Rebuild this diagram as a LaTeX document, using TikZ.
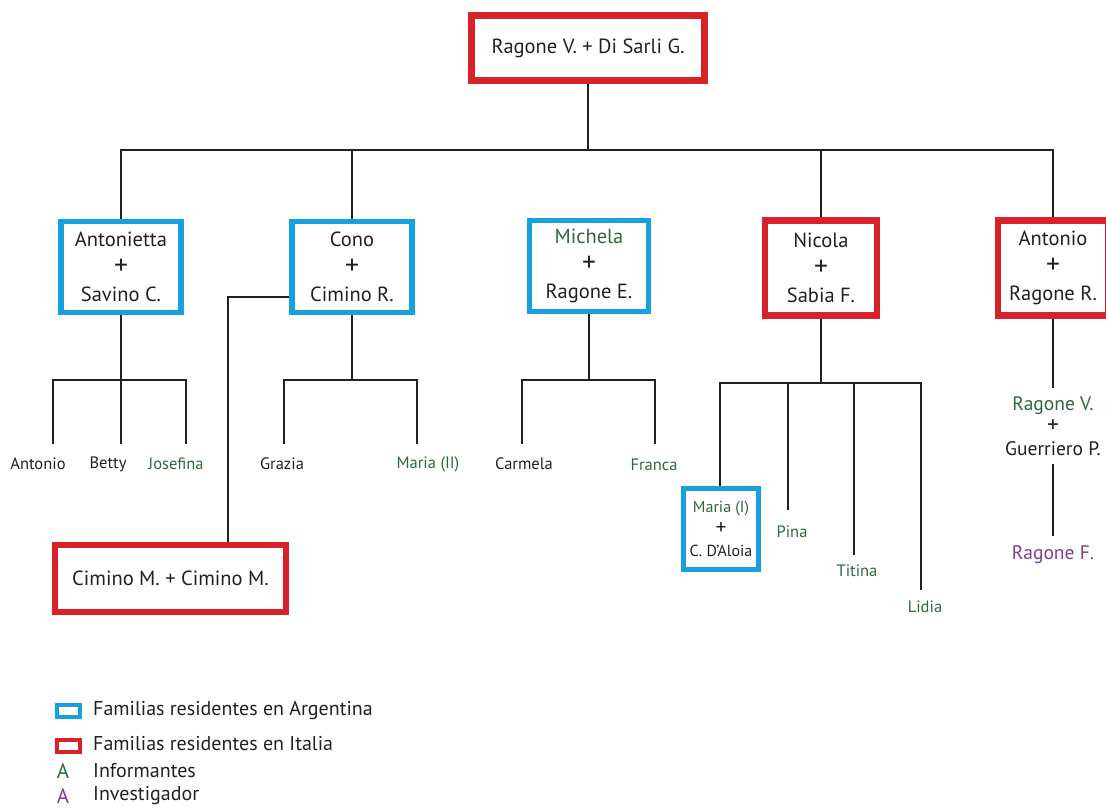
\documentclass[tikz,border=0pt]{standalone}
\usepackage{fontspec}
\setmainfont{PT Sans}
\usepackage{tikz}

\definecolor{argblue}{RGB}{22,160,222}
\definecolor{itared}{RGB}{214,34,40}
\definecolor{infgreen}{RGB}{46,104,62}
\definecolor{invpurple}{RGB}{122,62,140}
\definecolor{txtblack}{RGB}{35,31,32}
\newcommand{\bigplus}{\smash{\scalebox{1.35}{+}}}

\begin{document}
\begin{tikzpicture}[x=1pt,y=-1pt,
    ita_box/.style={draw=itared,line width=6.5pt,align=center,inner sep=0pt},
    arg_box/.style={draw=argblue,line width=5.5pt,align=center,inner sep=0pt},
    big_txt/.style={font=\fontsize{20.5}{27.5}\selectfont,text=txtblack},
    kid_txt/.style={font=\fontsize{16.5}{19}\selectfont,text=txtblack},
    leg_txt/.style={font=\fontsize{20}{22}\selectfont,text=txtblack,anchor=west,inner sep=0pt},
    link/.style={line width=1.8pt,draw=txtblack}]

    \useasboundingbox (0,0) rectangle (1106,810);

    % top couple and first generation
    \node[ita_box,big_txt,minimum width=233pt,minimum height=65pt] (top) at (588,48) {Ragone V. + Di Sarli G.};
    \node[arg_box,big_txt,minimum width=120pt,minimum height=91pt] (antonietta) at (121,267) {Antonietta\\\bigplus\\Savino C.};
    \node[arg_box,big_txt,minimum width=120pt,minimum height=91pt] (cono) at (352,267) {Cono\\\bigplus\\Cimino R.};
    \node[arg_box,big_txt,minimum width=119pt,minimum height=91pt] (michela) at (589,266) {\textcolor{infgreen}{Michela}\\\bigplus\\Ragone E.};
    \node[ita_box,big_txt,minimum width=112pt,minimum height=95pt] (nicola) at (821,268) {Nicola\\\bigplus\\Sabia F.};
    \node[ita_box,big_txt,minimum width=110pt,minimum height=95pt] (antonio) at (1053,268) {Antonio\\\bigplus\\Ragone R.};
    \coordinate (fork) at (588,150);
    \draw[link] (top) -- (fork);
    \draw[link] (antonietta) |- (fork) -| (antonio);
    \draw[link] (cono) -- (cono |- fork);
    \draw[link] (nicola) -- (nicola |- fork);

    % Antonietta
    \coordinate (a_bar) at (121,380);
    \coordinate (a_k1) at (53,444);
    \coordinate (a_k2) at (121,444);
    \coordinate (a_k3) at (186,444);
    \draw[link] (antonietta) -- (a_k2);
    \draw[link] (a_k1) |- (a_bar) -| (a_k3);
    \node[kid_txt] (k_antonio) at (38,464) {Antonio};
    \node[kid_txt] (k_betty) at (108,464) {Betty};
    \node[kid_txt,text=infgreen] (k_josefina) at (176,464) {Josefina};

    % Cono
    \coordinate (c_bar) at (352,380);
    \coordinate (c_k1) at (284,444);
    \coordinate (c_k2) at (417,444);
    \draw[link] (cono) -- (c_bar);
    \draw[link] (c_k1) |- (c_bar) -| (c_k2);
    \node[kid_txt] (k_grazia) at (282,464) {Grazia};
    \node[kid_txt,text=infgreen] (k_maria2) at (428,464) {Maria (II)};
    \node[ita_box,big_txt,line width=6pt,minimum width=231pt,minimum height=67pt] (cimino) at (170.5,578.5) {Cimino M. + Cimino M.};
    \coordinate (cim_turn) at (228,297);
    \draw[link] (cono.west |- cim_turn) -- (cim_turn) -- (cim_turn |- cimino.north);

    % Michela
    \coordinate (m_bar) at (589,380);
    \coordinate (m_k1) at (522,444);
    \coordinate (m_k2) at (655,444);
    \draw[link] (michela) -- (m_bar);
    \draw[link] (m_k1) |- (m_bar) -| (m_k2);
    \node[kid_txt] (k_carmela) at (524,464) {Carmela};
    \node[kid_txt,text=infgreen] (k_franca) at (654,465) {Franca};

    % Nicola
    \node[arg_box,kid_txt,line width=5pt,minimum width=75pt,minimum height=81pt,font=\fontsize{16}{22}\selectfont] (maria1) at (721,529) {\textcolor{infgreen}{Maria (I)}\\\bigplus\\C. D'Aloia};
    \coordinate (n_bar) at (821,383);
    \coordinate (n_pina) at (788,510);
    \coordinate (n_titina) at (854,555);
    \coordinate (n_lidia) at (921,590);
    \draw[link] (nicola) -- (n_bar);
    \draw[link] (maria1.north -| 720,0) |- (n_bar) -| (n_lidia);
    \draw[link] (n_pina) -- (n_pina |- n_bar);
    \draw[link] (n_titina) -- (n_titina |- n_bar);
    \node[kid_txt,text=infgreen] (k_pina) at (792,532) {Pina};
    \node[kid_txt,text=infgreen] (k_titina) at (857,571) {Titina};
    \node[kid_txt,text=infgreen] (k_lidia) at (925,607) {Lidia};

    % Antonio
    \node[big_txt,font=\fontsize{19.5}{22.5}\selectfont,align=center,inner sep=8pt] (ragone_vg) at (1053,426) {\textcolor{infgreen}{Ragone V.}\\\smash{\scalebox{1.2}{+}}\\Guerriero P.};
    \node[big_txt,font=\fontsize{19.5}{21}\selectfont,text=invpurple,inner sep=10pt] (ragone_f) at (1053,555) {Ragone F.};
    \draw[link] (antonio) -- (ragone_vg);
    \draw[link] (ragone_vg) -- (ragone_f);

    % legend
    \node[arg_box,line width=4pt,minimum width=23pt,minimum height=12pt] (leg_arg) at (68.5,711) {};
    \node[ita_box,line width=4pt,minimum width=23pt,minimum height=12pt] (leg_ita) at (68.5,746) {};
    \node[leg_txt,font=\fontsize{21}{22}\selectfont,anchor=center,text=infgreen] (leg_a1) at (63,771) {A};
    \node[leg_txt,font=\fontsize{21}{22}\selectfont,anchor=center,text=invpurple] (leg_a2) at (63,796) {A};
    \node[leg_txt] (leg_t1) at (93,711) {Familias residentes en Argentina};
    \node[leg_txt] (leg_t2) at (93,744) {Familias residentes en Italia};
    \node[leg_txt] (leg_t3) at (93,771) {Informantes};
    \node[leg_txt] (leg_t4) at (93,796) {Investigador};
\end{tikzpicture}
\end{document}
